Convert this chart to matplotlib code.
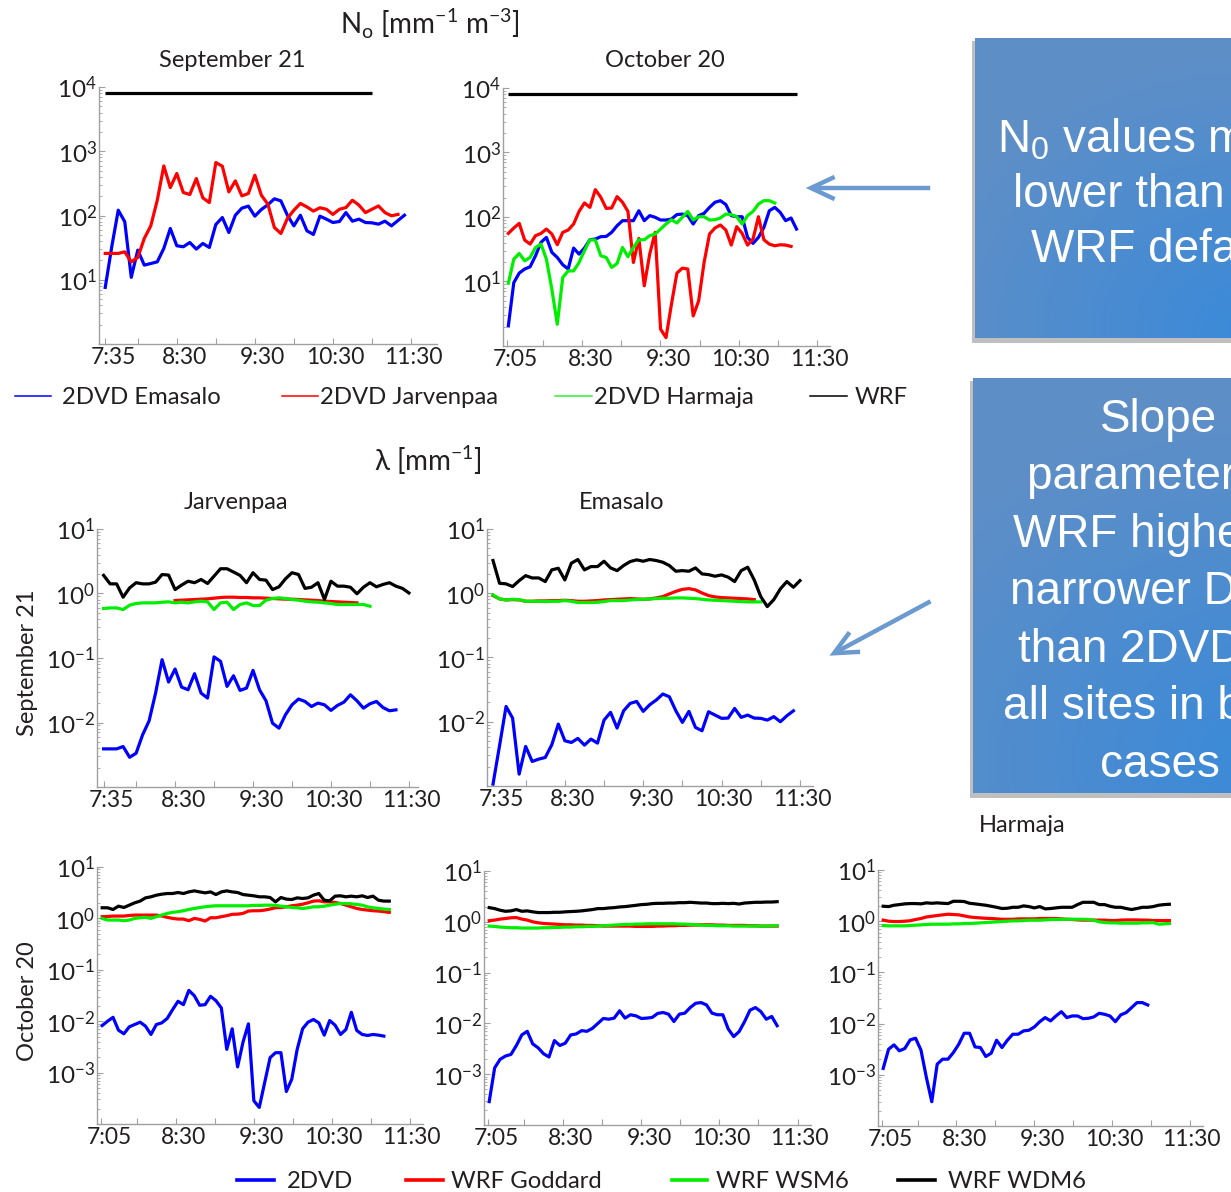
import numpy as np
import matplotlib
matplotlib.use("Agg")
import matplotlib.pyplot as plt
from matplotlib import transforms
from matplotlib.lines import Line2D
from matplotlib.patches import Rectangle, FancyArrowPatch
from matplotlib.ticker import LogLocator, NullFormatter, FuncFormatter, FixedLocator

# ------------------------------------------------------------------ data
SEP_STEP = 5.0          # minutes between 2DVD / WRF samples on 21 September
OCT_STEP = 25.0 / 6.0   # minutes between samples on 20 October

SEP_TICKS = [0, 25, 55, 85, 115, 145, 175, 205, 235]
SEP_TICK_LABELS = ['7:35', '', '8:30', '', '9:30', '', '10:30', '', '11:30']
OCT_TICKS = [-1, 26.5, 56.5, 86.5, 116.5, 146.5, 176.5, 206.5, 236.5]
OCT_TICK_LABELS = ['7:05', '', '8:30', '', '9:30', '', '10:30', '', '11:30']

# intercept parameter N0 [mm^-1 m^-3]
WRF_N0 = 8000.0
WRF_N0_SEP_SAMPLES = 42
WRF_N0_OCT_SAMPLES = 54

n0_sep_emasalo = [7.6, 32.6, 121, 80, 10.9, 28.9, 16.9, 17.9, 19.0, 30.7,
                  62.8, 33.8, 32.6, 38.0, 30.0, 36.7, 31.8, 72.4, 93, 54.4,
                  101, 130, 140, 97.7, 124, 147, 182, 169, 101, 69,
                  101, 57.8, 50.7, 97.7, 87.7, 77.8, 80.7, 111, 81.6, 87.7,
                  77.8, 76.9, 73.3, 81.6, 69, 83.6, 101]
n0_sep_jarvenpaa = [25.7, 25.7, 25.7, 27.2, 19.0, 22.2, 43.9, 69, 173, 591,
                    272, 450, 228, 212, 376, 188, 159, 667, 585, 233,
                    346, 202, 220, 424, 207, 150, 65, 52.5, 90, 121,
                    154, 136, 117, 132, 125, 104, 125, 133, 173, 145,
                    111, 125, 141, 111, 99, 104]

n0_oct_emasalo = [2.05, 9.6, 13.5, 15.6, 16.9, 25.1, 40.4, 48.3, 28.3, 23.6,
                  18.2, 15.6, 33.0, 26.6, 33.0, 44.4, 45.5, 49.5, 50.0, 57.8,
                  73.3, 87.7, 87.7, 87.7, 125, 87.7, 105, 98.9, 89.8, 89.8,
                  93.0, 109, 111, 105, 77.8, 105, 114, 141, 169, 179,
                  156, 105, 101, 101, 48.3, 39.0, 48.3, 69.0, 125, 141,
                  118, 87.7, 96.4, 65.0]
n0_oct_jarvenpaa = [55.7, 67.5, 79.7, 43.9, 38.0, 51.3, 55.7, 65.0, 54.5, 37.1,
                    57.8, 62.8, 77.8, 122, 165, 141, 266, 202, 136, 138,
                    207, 169, 122, 19.7, 46.5, 8.57, 26.6, 57.8, 1.82, 1.35,
                    4.45, 13.5, 16.1, 15.6, 2.93, 5.0, 19.7, 54.5, 67.5, 75.2,
                    62.8, 36.7, 70.8, 55.7, 36.7, 45.5, 101, 44.4, 38.0, 35.8,
                    37.1, 36.7, 35.0]
n0_oct_harmaja = [9.4, 22.2, 27.2, 20.9, 23.6, 33.7, 38.0, 22.2, 7.6, 2.17,
                  11.5, 14.6, 14.6, 19.7, 30.0, 44.4, 43.9, 25.1, 23.6, 16.5,
                  19.0, 33.7, 24.2, 33.7, 44.4, 44.4, 51.3, 54.5, 65.0, 77.8,
                  90.9, 80.7, 98.9, 122, 89.8, 101, 101, 89.8, 90.9, 96.4,
                  111, 109, 101, 77.8, 105, 122, 159, 179, 179, 165]

# slope parameter lambda [mm^-1]
lam_sep_jar_2dvd = [0.0039, 0.0039, 0.0039, 0.00424, 0.00289, 0.00334, 0.00643, 0.0106, 0.0286, 0.0942,
                    0.0424, 0.0675, 0.0354, 0.0322, 0.0571, 0.0286, 0.0239, 0.104, 0.0888, 0.0363,
                    0.0531, 0.0314, 0.0342, 0.0643, 0.0322, 0.0217, 0.00977, 0.00817, 0.0132, 0.0188,
                    0.0231, 0.0212, 0.0177, 0.0200, 0.0188, 0.0154, 0.0184, 0.0207, 0.0269, 0.0217,
                    0.0167, 0.0195, 0.0212, 0.0171, 0.0152, 0.0157]
lam_sep_jar_goddard_start = 11
lam_sep_jar_goddard = [0.778, 0.788, 0.797, 0.807, 0.817, 0.826, 0.846, 0.867, 0.877, 0.877,
                       0.867, 0.867, 0.857, 0.857, 0.846, 0.836, 0.826, 0.817, 0.817, 0.807,
                       0.797, 0.788, 0.778, 0.760, 0.751, 0.742, 0.733, 0.725, 0.716]
lam_sep_jar_wsm6 = [0.585, 0.598, 0.598, 0.564, 0.659, 0.700, 0.716, 0.716, 0.716, 0.733,
                    0.742, 0.716, 0.733, 0.716, 0.742, 0.760, 0.742, 0.564, 0.716, 0.733,
                    0.564, 0.675, 0.716, 0.651, 0.651, 0.788, 0.836, 0.857, 0.836, 0.807,
                    0.788, 0.760, 0.742, 0.733, 0.716, 0.700, 0.675, 0.675, 0.675, 0.675,
                    0.675, 0.636]
lam_sep_jar_wdm6 = [1.91, 1.41, 1.41, 0.877, 1.22, 1.47, 1.41, 1.41, 1.50, 1.97,
                    1.93, 1.15, 1.35, 1.55, 1.47, 1.65, 1.43, 1.86, 2.42, 2.42,
                    2.15, 1.91, 1.47, 2.10, 1.65, 1.61, 1.15, 1.27, 1.69, 2.10,
                    1.97, 1.20, 1.25, 1.47, 0.81, 1.55, 1.30, 1.30, 1.25, 0.99,
                    1.25, 1.47, 1.27, 1.38, 1.47, 1.30, 1.20, 1.02]

lam_sep_ema_2dvd = [0.00107, 0.00423, 0.0173, 0.0114, 0.00153, 0.00413, 0.00241, 0.00262, 0.00278, 0.00438,
                    0.00920, 0.00506, 0.00476, 0.00550, 0.00433, 0.00537, 0.00465, 0.0106, 0.0140, 0.00797,
                    0.0148, 0.0193, 0.0207, 0.0145, 0.0184, 0.0218, 0.0270, 0.0245, 0.0148, 0.00977,
                    0.0145, 0.00816, 0.00724, 0.0143, 0.0127, 0.0113, 0.0114, 0.0161, 0.0117, 0.0127,
                    0.0114, 0.0113, 0.0106, 0.0120, 0.0100, 0.0124, 0.0148]
lam_sep_ema_goddard = [0.920, 0.816, 0.787, 0.797, 0.787, 0.750, 0.750, 0.760, 0.760, 0.769,
                       0.769, 0.778, 0.769, 0.750, 0.750, 0.760, 0.769, 0.787, 0.797, 0.806,
                       0.816, 0.826, 0.816, 0.806, 0.816, 0.846, 0.887, 0.976, 1.07, 1.15,
                       1.18, 1.13, 1.01, 0.920, 0.877, 0.856, 0.846, 0.836, 0.826, 0.816,
                       0.797]
lam_sep_ema_wsm6 = [0.942, 0.816, 0.787, 0.806, 0.797, 0.750, 0.750, 0.750, 0.742, 0.750,
                    0.750, 0.769, 0.750, 0.716, 0.716, 0.716, 0.724, 0.742, 0.769, 0.769,
                    0.769, 0.787, 0.797, 0.806, 0.816, 0.826, 0.836, 0.836, 0.846, 0.846,
                    0.836, 0.826, 0.806, 0.787, 0.778, 0.769, 0.760, 0.750, 0.742, 0.733,
                    0.733, 0.733]
lam_sep_ema_wdm6 = [3.23, 1.43, 1.40, 1.27, 1.57, 1.88, 1.73, 1.73, 1.52, 2.31,
                    2.45, 1.61, 2.94, 3.35, 2.31, 2.60, 2.60, 3.15, 2.48, 2.25,
                    2.70, 3.11, 3.31, 3.15, 3.35, 3.23, 3.04, 2.70, 2.20, 2.25,
                    2.20, 2.48, 2.00, 1.95, 1.84, 1.93, 1.78, 1.52, 2.25, 2.54,
                    1.61, 0.887, 0.620, 0.797, 1.17, 1.52, 1.24, 1.57]

lam_oct_jar_2dvd = [0.00824, 0.0100, 0.0119, 0.00670, 0.00569, 0.00777, 0.00862, 0.00957, 0.00800, 0.00552,
                    0.00862, 0.00929, 0.0113, 0.0168, 0.0244, 0.0210, 0.0398, 0.0314, 0.0204, 0.0210,
                    0.0305, 0.0251, 0.0181, 0.00283, 0.00711, 0.00129, 0.00392, 0.00888, 0.000283, 0.000210,
                    0.000640, 0.00195, 0.00244, 0.00244, 0.000429, 0.000743, 0.00283, 0.00711, 0.00957, 0.0108,
                    0.00929, 0.00536, 0.0103, 0.00837, 0.00552, 0.00690, 0.0149, 0.00660, 0.00552, 0.00528,
                    0.00552, 0.00536, 0.00513]
lam_oct_jar_goddard = [1.08, 1.09, 1.11, 1.11, 1.11, 1.14, 1.16, 1.16, 1.16, 1.16,
                       1.16, 1.11, 1.05, 1.00, 0.971, 0.971, 0.901, 1.00, 0.956, 0.888,
                       1.03, 1.03, 1.08, 1.13, 1.20, 1.21, 1.25, 1.39, 1.41, 1.41,
                       1.45, 1.52, 1.61, 1.63, 1.68, 1.76, 1.81, 1.89, 2.01, 2.17,
                       2.20, 2.10, 2.10, 2.04, 1.95, 1.81, 1.68, 1.56, 1.49, 1.45,
                       1.41, 1.39, 1.35, 1.31]
lam_oct_jar_wsm6 = [1.00, 0.929, 0.929, 0.929, 0.901, 0.929, 1.00, 1.03, 1.05, 1.00,
                    1.08, 1.16, 1.25, 1.31, 1.35, 1.41, 1.49, 1.56, 1.63, 1.68,
                    1.73, 1.76, 1.76, 1.76, 1.76, 1.76, 1.76, 1.76, 1.79, 1.79,
                    1.81, 1.81, 1.79, 1.73, 1.68, 1.63, 1.61, 1.56, 1.61, 1.68,
                    1.68, 1.73, 1.81, 1.89, 1.95, 1.95, 1.92, 1.87, 1.81, 1.68,
                    1.61, 1.56, 1.52, 1.49]
lam_oct_jar_wdm6 = [1.61, 1.61, 1.49, 1.73, 1.63, 1.81, 2.01, 2.17, 2.51, 2.63,
                    2.83, 2.96, 3.05, 3.05, 3.19, 3.05, 3.28, 3.43, 3.28, 3.14,
                    3.28, 2.91, 3.28, 3.43, 3.28, 3.19, 2.91, 2.83, 2.75, 2.63,
                    2.63, 2.55, 2.10, 2.55, 2.37, 2.33, 2.51, 2.44, 2.51, 2.83,
                    3.05, 2.26, 2.20, 2.71, 2.75, 2.63, 2.71, 2.63, 2.75, 2.55,
                    2.71, 2.26, 2.17, 2.17]

lam_oct_ema_2dvd = [0.000289, 0.00133, 0.00196, 0.00228, 0.00245, 0.00367, 0.00593, 0.00699, 0.00396, 0.00331,
                    0.00253, 0.00218, 0.00459, 0.00367, 0.00408, 0.00593, 0.00620, 0.00720, 0.00699, 0.00800,
                    0.0100, 0.0125, 0.0121, 0.0127, 0.0177, 0.0127, 0.0148, 0.0141, 0.0125, 0.0127,
                    0.0131, 0.0157, 0.0164, 0.0152, 0.0109, 0.0152, 0.0159, 0.0205, 0.0249, 0.0257,
                    0.0231, 0.0159, 0.0148, 0.0148, 0.00776, 0.00550, 0.00689, 0.0108, 0.0182, 0.0205,
                    0.0171, 0.0121, 0.0137, 0.00901]
lam_oct_ema_goddard = [1.05, 1.08, 1.13, 1.16, 1.20, 1.21, 1.13, 1.08, 1.00, 0.956,
                       0.928, 0.914, 0.901, 0.887, 0.874, 0.874, 0.861, 0.861, 0.849, 0.849,
                       0.836, 0.823, 0.823, 0.823, 0.823, 0.823, 0.823, 0.811, 0.811, 0.811,
                       0.811, 0.823, 0.823, 0.836, 0.836, 0.849, 0.849, 0.861, 0.861, 0.874,
                       0.874, 0.874, 0.861, 0.861, 0.849, 0.849, 0.849, 0.849, 0.836, 0.836,
                       0.823, 0.823, 0.823, 0.823]
lam_oct_ema_wsm6 = [0.823, 0.811, 0.787, 0.776, 0.764, 0.764, 0.753, 0.753, 0.753, 0.753,
                    0.764, 0.764, 0.776, 0.776, 0.787, 0.787, 0.799, 0.799, 0.811, 0.811,
                    0.823, 0.836, 0.849, 0.861, 0.874, 0.887, 0.887, 0.901, 0.901, 0.914,
                    0.914, 0.914, 0.914, 0.914, 0.914, 0.901, 0.901, 0.887, 0.874, 0.861,
                    0.849, 0.849, 0.836, 0.836, 0.836, 0.823, 0.823, 0.823, 0.823, 0.823,
                    0.823, 0.823, 0.836, 0.836]
lam_oct_ema_wdm6 = [1.90, 1.82, 1.69, 1.61, 1.64, 1.74, 1.61, 1.64, 1.57, 1.52,
                    1.52, 1.52, 1.54, 1.54, 1.57, 1.59, 1.61, 1.64, 1.69, 1.74,
                    1.82, 1.82, 1.87, 1.90, 1.96, 1.99, 2.05, 2.11, 2.18, 2.21,
                    2.28, 2.31, 2.31, 2.34, 2.34, 2.38, 2.38, 2.42, 2.38, 2.34,
                    2.34, 2.28, 2.28, 2.31, 2.28, 2.31, 2.24, 2.34, 2.38, 2.42,
                    2.42, 2.45, 2.45, 2.49]

lam_oct_har_2dvd = [0.00133, 0.00316, 0.00384, 0.00294, 0.00326, 0.00481, 0.00518, 0.00303, 0.000887, 0.000298,
                    0.00161, 0.00202, 0.00202, 0.00272, 0.00396, 0.00648, 0.00648, 0.00351, 0.00341, 0.00228,
                    0.00264, 0.00473, 0.00341, 0.00473, 0.00620, 0.00620, 0.00720, 0.00742, 0.00861, 0.0109,
                    0.0131, 0.0113, 0.0141, 0.0171, 0.0131, 0.0141, 0.0141, 0.0125, 0.0127, 0.0135,
                    0.0159, 0.0152, 0.0141, 0.0109, 0.0148, 0.0164, 0.0205, 0.0257, 0.0257, 0.0231]
lam_oct_har_goddard = [1.05, 1.00, 0.985, 0.985, 1.00, 1.02, 1.08, 1.13, 1.21, 1.25,
                       1.29, 1.33, 1.37, 1.35, 1.33, 1.27, 1.21, 1.18, 1.16, 1.14,
                       1.13, 1.11, 1.09, 1.09, 1.09, 1.11, 1.11, 1.11, 1.11, 1.13,
                       1.13, 1.13, 1.13, 1.11, 1.09, 1.08, 1.06, 1.05, 1.05, 1.05,
                       1.05, 1.05, 1.03, 1.03, 1.05, 1.06, 1.06, 1.06, 1.05, 1.05,
                       1.03, 1.03, 1.03, 1.03]
lam_oct_har_wsm6 = [0.823, 0.811, 0.811, 0.811, 0.811, 0.823, 0.836, 0.849, 0.861, 0.874,
                    0.874, 0.874, 0.874, 0.887, 0.887, 0.901, 0.901, 0.914, 0.928, 0.942,
                    0.956, 0.971, 0.985, 1.00, 1.015, 1.015, 1.03, 1.045, 1.045, 1.045,
                    1.06, 1.08, 1.08, 1.09, 1.09, 1.09, 1.09, 1.09, 1.08, 1.045,
                    0.971, 0.942, 0.928, 0.928, 0.914, 0.914, 0.914, 0.914, 0.928, 0.928,
                    0.942, 0.874, 0.887, 0.901]
lam_oct_har_wdm6 = [1.96, 1.93, 2.05, 2.11, 2.18, 2.21, 2.21, 2.18, 2.28, 2.24,
                    2.28, 2.24, 2.21, 2.45, 2.45, 2.42, 2.24, 2.18, 2.11, 2.05,
                    1.96, 1.87, 1.77, 1.79, 1.87, 1.87, 1.99, 1.93, 1.82, 1.93,
                    1.74, 1.77, 1.82, 1.87, 1.87, 1.87, 2.11, 2.34, 2.34, 2.34,
                    2.11, 2.11, 1.96, 1.87, 1.87, 1.77, 1.69, 1.77, 1.87, 1.87,
                    1.93, 2.05, 2.11, 2.14]

# ------------------------------------------------------------------ style
W, H, DPI = 1231, 1192, 100
BLUE, RED, GREEN, BLACK = '#0000ff', '#ff0000', '#00ee00', '#000000'
AXIS_GRAY = '#a0a0a0'
TEXT = '#231f20'
ARROW = '#6a9acf'
LW = 2.3
FS_TICK = 16.5
FS_YTICK = 17.5
FS_TITLE = 17
FS_LEGEND = 17.2
FS_HEAD = 20

plt.rcParams['font.family'] = ['Lato', 'DejaVu Sans']
plt.rcParams['text.color'] = TEXT

fig = plt.figure(figsize=(W / DPI, H / DPI), dpi=DPI)
fig.patch.set_facecolor('white')

# pixel coordinates measured from the top-left corner
PX = transforms.Affine2D().scale(1 / DPI, -1 / DPI).translate(0, H / DPI) + fig.dpi_scale_trans


def times(n, step, start=0):
    return (start + np.arange(n)) * step


def decade_label(v, pos):
    return r'$\mathregular{10^{%d}}$' % int(round(np.log10(v)))


def panel(rect, xlim, ylim, ticks, labels):
    l, t, r, b = rect
    ax = fig.add_axes([l / W, 1 - b / H, (r - l) / W, (b - t) / H])
    ax.set_facecolor('none')
    ax.set_yscale('log')
    ax.set_xlim(*xlim)
    ax.set_ylim(*ylim)
    for s in ('top', 'right'):
        ax.spines[s].set_visible(False)
    for s in ('left', 'bottom'):
        ax.spines[s].set_color(AXIS_GRAY)
        ax.spines[s].set_linewidth(1.0)
    lo, hi = int(round(np.log10(ylim[0]))), int(round(np.log10(ylim[1])))
    ax.yaxis.set_major_locator(FixedLocator([10.0 ** e for e in range(lo + 1, hi + 1)]))
    ax.yaxis.set_major_formatter(FuncFormatter(decade_label))
    ax.yaxis.set_minor_locator(LogLocator(base=10, subs=np.arange(2, 10), numticks=30))
    ax.yaxis.set_minor_formatter(NullFormatter())
    ax.tick_params(axis='y', which='major', direction='in', length=4, width=0.8,
                   color=AXIS_GRAY, labelsize=FS_YTICK, pad=1.5, labelcolor=TEXT)
    ax.tick_params(axis='y', which='minor', direction='in', length=2.2, width=0.6,
                   color=AXIS_GRAY)
    ax.set_xticks(ticks)
    ax.set_xticklabels(labels)
    ax.tick_params(axis='x', which='major', direction='in', length=4, width=0.8,
                   color=AXIS_GRAY, labelsize=FS_TICK, pad=2, labelcolor=TEXT)
    for lab in ax.get_xticklabels():
        dx = 8 if len(lab.get_text()) == 4 else 2
        lab.set_transform(lab.get_transform() +
                          transforms.ScaledTranslation(dx / DPI, 0, fig.dpi_scale_trans))
    return ax


def series(ax, values, step, color, start=0):
    ax.plot(times(len(values), step, start), values, color=color, lw=LW,
            solid_joinstyle='round', clip_on=False)


# ------------------------------------------------------------------ N0 panels
SEP_N0_XLIM = (-4.8, 255)
OCT_N0_XLIM = (-4.1, 246.5)

ax = panel((99, 87, 437, 344), SEP_N0_XLIM, (1, 1e4), SEP_TICKS, SEP_TICK_LABELS)
series(ax, n0_sep_emasalo, SEP_STEP, BLUE)
series(ax, n0_sep_jarvenpaa, SEP_STEP, RED)
ax.hlines(WRF_N0, 0, (WRF_N0_SEP_SAMPLES - 1) * SEP_STEP, color=BLACK, lw=LW)

ax = panel((503, 88, 830, 346), OCT_N0_XLIM, (1, 1e4), OCT_TICKS, OCT_TICK_LABELS)
series(ax, n0_oct_emasalo, OCT_STEP, BLUE)
series(ax, n0_oct_jarvenpaa, OCT_STEP, RED)
series(ax, n0_oct_harmaja, OCT_STEP, GREEN)
ax.hlines(WRF_N0, 0, (WRF_N0_OCT_SAMPLES - 1) * OCT_STEP, color=BLACK, lw=LW)

# ------------------------------------------------------------------ lambda panels
ax = panel((97, 529, 418, 787), (-5.1, 242), (1e-3, 10), SEP_TICKS, SEP_TICK_LABELS)
series(ax, lam_sep_jar_2dvd, SEP_STEP, BLUE)
series(ax, lam_sep_jar_goddard, SEP_STEP, RED, start=lam_sep_jar_goddard_start)
series(ax, lam_sep_jar_wsm6, SEP_STEP, GREEN)
series(ax, lam_sep_jar_wdm6, SEP_STEP, BLACK)

ax = panel((487, 529, 813, 786), (-4.6, 245), (1e-3, 10), SEP_TICKS, SEP_TICK_LABELS)
series(ax, lam_sep_ema_2dvd, SEP_STEP, BLUE)
series(ax, lam_sep_ema_goddard, SEP_STEP, RED)
series(ax, lam_sep_ema_wsm6, SEP_STEP, GREEN)
series(ax, lam_sep_ema_wdm6, SEP_STEP, BLACK)

OCT_LAM_XLIM = (-4.0, 246.8)
for rect, blue, red, green, black in [
        ((97, 867, 423, 1124), lam_oct_jar_2dvd, lam_oct_jar_goddard, lam_oct_jar_wsm6, lam_oct_jar_wdm6),
        ((484, 871, 811, 1125), lam_oct_ema_2dvd, lam_oct_ema_goddard, lam_oct_ema_wsm6, lam_oct_ema_wdm6),
        ((878, 870, 1203, 1126), lam_oct_har_2dvd, lam_oct_har_goddard, lam_oct_har_wsm6, lam_oct_har_wdm6)]:
    ax = panel(rect, OCT_LAM_XLIM, (1e-4, 10), OCT_TICKS, OCT_TICK_LABELS)
    series(ax, blue, OCT_STEP, BLUE)
    series(ax, red, OCT_STEP, RED)
    series(ax, green, OCT_STEP, GREEN)
    series(ax, black, OCT_STEP, BLACK)

# ------------------------------------------------------------------ headings
fig.text(430, 34, r'N$_\mathregular{o}$ [mm$^\mathregular{-1}$ m$^\mathregular{-3}$]',
         transform=PX, ha='center', va='baseline', fontsize=FS_HEAD)
fig.text(428, 471, r'λ [mm$^\mathregular{-1}$]', transform=PX, ha='center',
         va='baseline', fontsize=FS_HEAD)
for x, y, s in [(232, 67, 'September 21'), (665, 67, 'October 20'),
                (236, 509, 'Jarvenpaa'), (622, 509, 'Emasalo'), (1022, 832, 'Harmaja')]:
    fig.text(x, y, s, transform=PX, ha='center', va='baseline', fontsize=FS_TITLE)
fig.text(28, 663, 'September 21', transform=PX, ha='center', va='center',
         rotation=90, fontsize=FS_TITLE)
fig.text(28, 1001, 'October 20', transform=PX, ha='center', va='center',
         rotation=90, fontsize=FS_TITLE)

# ------------------------------------------------------------------ legends
def key(x0, x1, y, color, lw, label, tx):
    fig.add_artist(Line2D([x0, x1], [y, y], transform=PX, color=color, lw=lw))
    fig.text(tx, y + 1, label, transform=PX, ha='left', va='center', fontsize=FS_LEGEND)


key(15, 51, 396, BLUE, 1.1, '2DVD Emasalo', 62)
key(282, 318, 396, RED, 1.1, '2DVD Jarvenpaa', 320)
key(555, 592, 396, '#33ee33', 1.1, '2DVD Harmaja', 594)
key(810, 847, 396, BLACK, 1.1, 'WRF', 855)

key(237, 274, 1180, BLUE, 2.6, '2DVD', 287)
key(406, 443, 1180, RED, 2.6, 'WRF Goddard', 451)
key(672, 707, 1180, GREEN, 2.6, 'WRF WSM6', 716)
key(898, 935, 1180, BLACK, 2.6, 'WRF WDM6', 948)

# ------------------------------------------------------------------ call-out boxes
C_LIGHT = np.array([0.37, 0.56, 0.78])
C_BRIGHT = np.array([0.23, 0.54, 0.85])


def callout(l, t, r, b, cx, cy, rad, lines):
    # soft drop shadow under the box
    fig.add_artist(Rectangle((l - 3, t + 3), r - l, b - t + 2, transform=PX,
                             facecolor='#8c8c8c', edgecolor='none', alpha=0.55,
                             zorder=-5))
    bx = fig.add_axes([l / W, 1 - b / H, (r - l) / W, (b - t) / H])
    bx.set_axis_off()
    bx.set_zorder(1)
    xs = np.linspace(l, r, 200)
    ys = np.linspace(t, b, 200)
    gx, gy = np.meshgrid(xs, ys)
    f = np.clip(1 - np.hypot(gx - cx, (gy - cy) * 1.2) / rad, 0, 1)[..., None]
    img = C_LIGHT * (1 - f) + C_BRIGHT * f
    bx.imshow(img, extent=(l, r, b, t), aspect='auto', interpolation='bilinear')
    for x, y, s in lines:
        fig.text(x, y, s, transform=PX, ha='left', va='baseline', color='white',
                 fontsize=33, family=['Liberation Sans', 'DejaVu Sans'], zorder=5)


callout(975, 38, 1340, 338, 1250, 330, 330,
        [(997, 152, r'N$_\mathregular{0}$ values much'),
         (1013, 207, 'lower than the'),
         (1031, 262, 'WRF default')])
callout(973, 378, 1340, 793, 1260, 760, 420,
        [(1100, 432, 'Slope'),
         (1027, 489, 'parameter in'),
         (1013, 547, 'WRF higher'),
         (1010, 604, 'narrower DSD'),
         (1018, 662, 'than 2DVD at'),
         (1003, 719, 'all sites in both'),
         (1100, 777, 'cases')])

# ------------------------------------------------------------------ arrows
for start, end in [((933, 188), (803, 188)), ((933, 600), (827, 657))]:
    fig.add_artist(FancyArrowPatch(start, end, transform=PX,
                                   arrowstyle='->,head_length=17,head_width=8',
                                   mutation_scale=1, color=ARROW, lw=3.2,
                                   capstyle='butt', joinstyle='miter'))

fig.savefig('out.png', dpi=DPI, facecolor='white')
